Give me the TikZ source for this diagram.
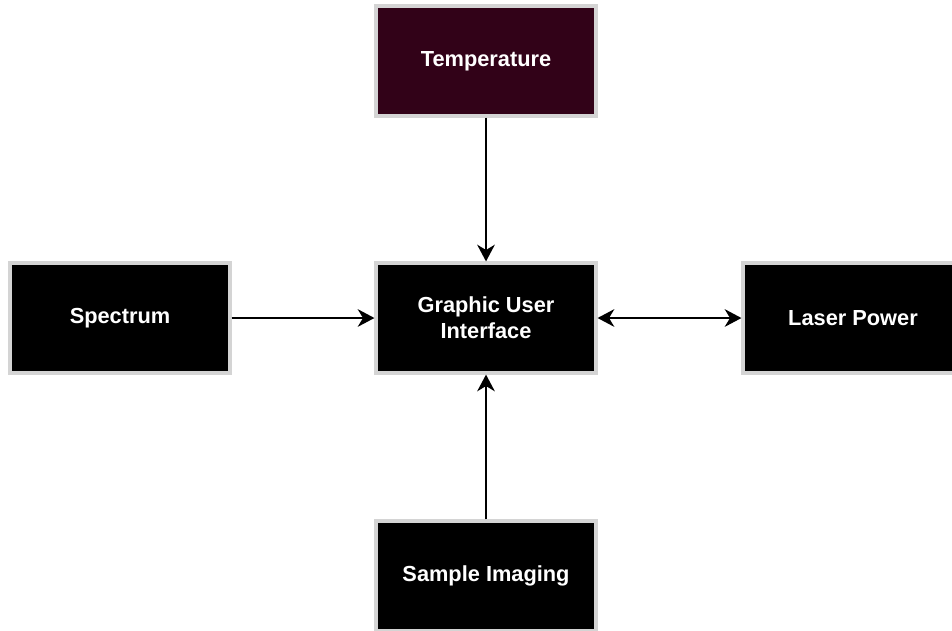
\documentclass[tikz,border=0pt]{standalone}
\usepackage{fontspec}
\setmainfont{Liberation Sans}
\usepackage{tikz}
\usetikzlibrary{positioning}
\usetikzlibrary{arrows.meta}
\usepackage{xcolor}

\definecolor{maroon}{RGB}{50,2,24}
\definecolor{rim}{RGB}{212,212,212}

\tikzset{
block/.style={draw=rim, line width=1.8pt, fill=black, text=white, minimum width=4.4cm, minimum height=2.2cm, align=center, font=\fontsize{12.4}{15}\selectfont\bfseries},
link/.style={line width=1.4pt, -{Stealth[length=9.5pt, width=10pt, inset=3pt]}},
twoway/.style={line width=1.4pt, {Stealth[length=9.5pt, width=10pt, inset=3pt]}-{Stealth[length=9.5pt, width=10pt, inset=3pt]}}
}

\begin{document}
\begin{tikzpicture}[x=0.02cm, y=-0.02cm]
\useasboundingbox (0,0) rectangle (952,630);
\fill[white] (0,0) rectangle (952,630);

\node[block, fill=maroon] (temp) at (486,61) {Temperature};
\node[block] (gui) at (486,318) {Graphic User\\Interface};
\node[block] (spec) at (120,318) {Spectrum};
\node[block] (laser) at (853,318) {Laser Power};
\node[block] (sample) at (486,576) {Sample Imaging};

\draw[link] (temp) -- (gui);
\draw[link] (spec) -- (gui);
\draw[twoway] (gui) -- (laser);
\draw[link] (sample) -- (gui);

\end{tikzpicture}
\end{document}
